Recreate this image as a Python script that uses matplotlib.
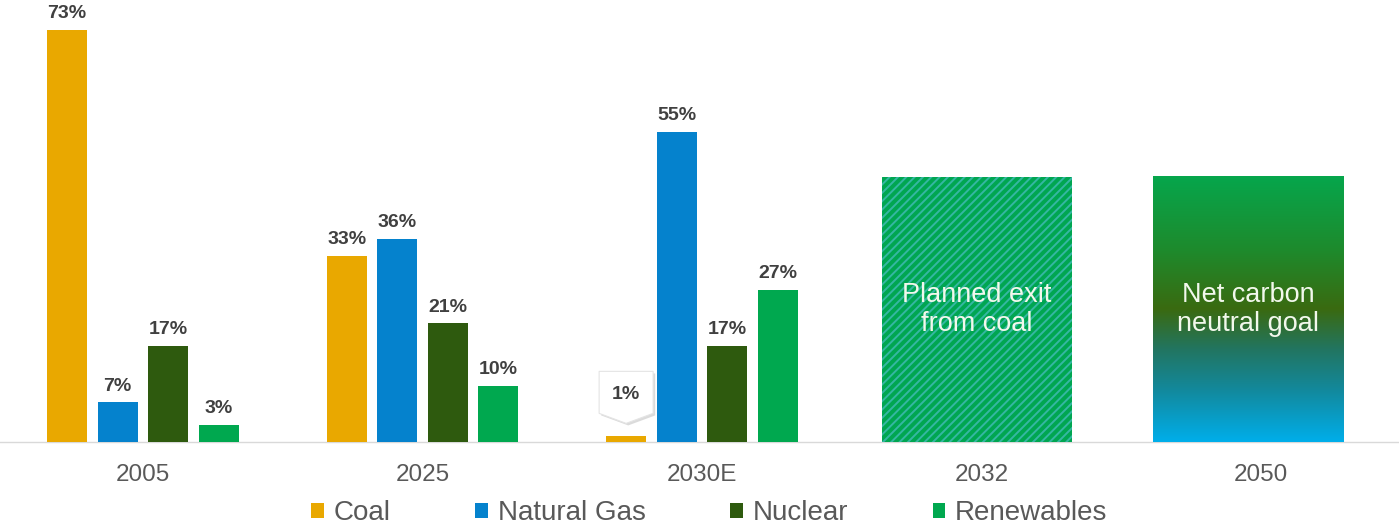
import matplotlib

matplotlib.use("Agg")
import matplotlib.pyplot as plt
import matplotlib.transforms as mtransforms
import numpy as np
from matplotlib import patheffects
from matplotlib.colors import LinearSegmentedColormap
from matplotlib.patches import Patch, Polygon, Rectangle

# data
years = ["2005", "2025", "2030E", "2032", "2050"]
series = ["Coal", "Natural Gas", "Nuclear", "Renewables"]
coal = [73, 33, 1]
natural_gas = [7, 36, 55]
nuclear = [17, 21, 17]
renewables = [3, 10, 27]
goal_labels = ["Planned exit\nfrom coal", "Net carbon\nneutral goal"]
goal_height = 47

colors = ["#E9A800", "#0582CD", "#2E5A0E", "#00A84F"]
LABEL_GREY = "#404040"
TICK_GREY = "#595959"

plt.rcParams.update({
    "font.family": ["Liberation Sans", "DejaVu Sans"],
    "hatch.linewidth": 1.4,
})

fig = plt.figure(figsize=(13.99, 5.29), dpi=100)
ax = fig.add_axes([0.0, 1 - 442 / 529, 1.0, 442 / 529])

ax.set_xlim(-143 / 279.5, (1399 - 143) / 279.5)
ax.set_ylim(0, 442 / 5.645)

values = [coal, natural_gas, nuclear, renewables]
width = 0.143
step = 0.181
x = np.arange(3)
for i, (vals, col) in enumerate(zip(values, colors)):
    pos = x + (i - 1.5) * step
    bars = ax.bar(pos, vals, width, color=col, zorder=3)
    for b, v in zip(bars, vals):
        cx = b.get_x() + b.get_width() / 2
        if v < 2:
            # small value: callout box above the bar
            shape = np.array([[0, 13], [-27, 23], [-27, 65], [27, 65], [27, 23]]) / 100.0
            trans = fig.dpi_scale_trans + mtransforms.ScaledTranslation(cx, v, ax.transData)
            poly = Polygon(shape, closed=True, transform=trans, facecolor="white",
                           edgecolor="#E4E4E4", lw=0.8, zorder=5)
            poly.set_path_effects([patheffects.withSimplePatchShadow(
                offset=(1.5, -1.5), shadow_rgbFace="#999999", alpha=0.35)])
            ax.add_patch(poly)
            ax.annotate(f"{v}%", xy=(cx, v), xytext=(0, 42), textcoords="offset pixels",
                        ha="center", va="center", fontsize=14, fontweight="bold",
                        color=LABEL_GREY, zorder=6)
        else:
            ax.annotate(f"{v}%", xy=(cx, v), xytext=(0, 5.5), textcoords="offset points",
                        ha="center", va="bottom", fontsize=14, fontweight="bold",
                        color=LABEL_GREY)

# 2032: hatched green box
goal_pos = [2.984, 3.953]
goal_w = 0.68
hatch_box = Rectangle((goal_pos[0] - goal_w / 2, 0), goal_w, goal_height,
                      facecolor="#00A651", edgecolor="#35B7A2", hatch="////",
                      lw=0, zorder=3)
ax.add_patch(hatch_box)

# 2050: vertical gradient box
grad = LinearSegmentedColormap.from_list("goal", [
    (0.0, "#00AEEA"),
    (0.2, "#13889A"),
    (0.35, "#227560"),
    (0.5, "#3A6A10"),
    (0.72, "#1E8A2C"),
    (1.0, "#06A64C"),
])
g = np.linspace(0, 1, 256).reshape(-1, 1)
ax.imshow(g, cmap=grad, origin="lower", aspect="auto", zorder=3,
          extent=(goal_pos[1] - goal_w / 2, goal_pos[1] + goal_w / 2, 0, goal_height))

for p, txt in zip(goal_pos, goal_labels):
    ax.text(p, goal_height / 2, txt, ha="center", va="center", fontsize=19.5,
            color="#F2F8EC", linespacing=1.15, zorder=6)

ax.set_xticks(np.arange(len(years)))
ax.set_xticklabels(years)
ax.tick_params(axis="x", length=0, pad=16, labelsize=17.5, labelcolor=TICK_GREY)
ax.set_yticks([])
for side in ["top", "left", "right"]:
    ax.spines[side].set_visible(False)
ax.spines["bottom"].set_color("#D9D9D9")
ax.spines["bottom"].set_linewidth(1.0)
ax.spines["bottom"].set_zorder(2)

handles = [Patch(facecolor=c, edgecolor="none") for c in colors]
fig.legend(handles, series, loc="center", bbox_to_anchor=(0.507, 0.03), ncol=4,
           frameon=False, fontsize=20, handlelength=0.45, handleheight=0.45,
           handletextpad=0.35, columnspacing=3.05, labelcolor=TICK_GREY,
           borderaxespad=0, borderpad=0)

fig.savefig("out.png", dpi=100)
